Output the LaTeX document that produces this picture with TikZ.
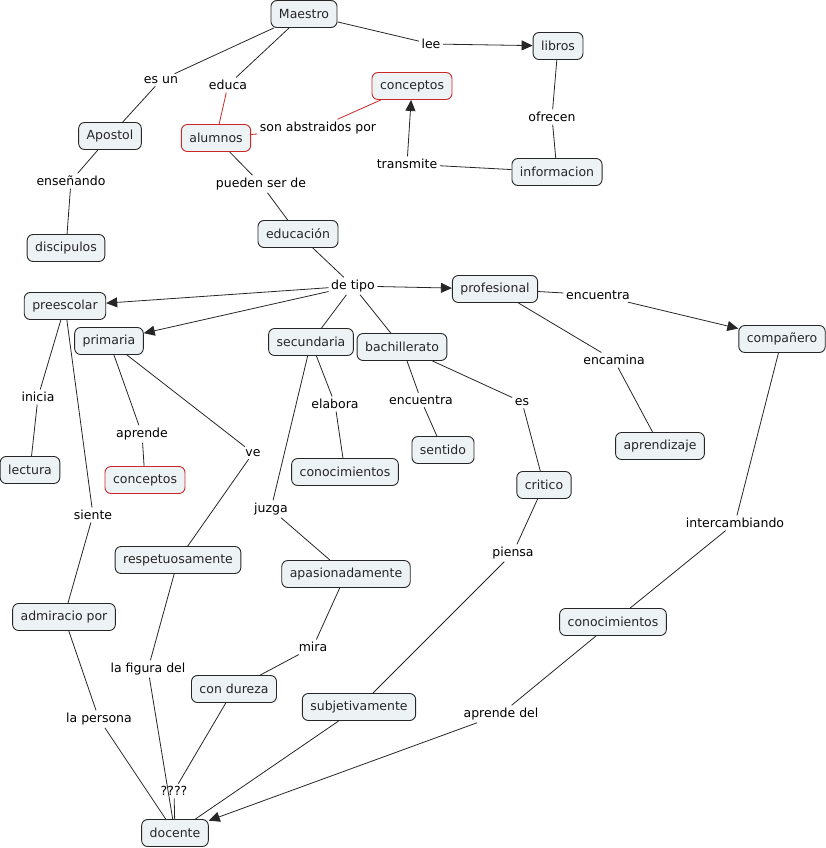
\documentclass[tikz,border=0pt]{standalone}
\usepackage{fontspec}
\setmainfont{DejaVu Sans}
\usetikzlibrary{arrows.meta}
\definecolor{conceptfill}{RGB}{237,242,245}
\definecolor{cmapred}{RGB}{205,38,38}
\begin{document}
\begin{tikzpicture}[x=1pt,y=-1pt,
    concept/.style={rectangle,draw=black!85,fill=conceptfill,rounded corners=6pt,
      line width=0.9pt,minimum height=27pt,inner xsep=8pt,inner ysep=0pt,
      font=\fontsize{12.5}{14}\selectfont,text=black!85},
    redconcept/.style={concept,draw=cmapred},
    linkp/.style={inner sep=2.5pt,font=\fontsize{12.5}{14}\selectfont},
    conn/.style={line width=0.8pt,draw=black!85},
    redconn/.style={line width=0.8pt,draw=cmapred},
    arr/.style={conn,-{Triangle[length=11pt,width=10pt]}}]
  \useasboundingbox (0,0) rectangle (826,848);
  % concepts
  \node[concept] (maestro) at (304,14) {Maestro};
  \node[concept] (libros) at (558,46) {libros};
  \node[redconcept] (conceptosA) at (412,86) {conceptos};
  \node[concept] (apostol) at (110,136) {Apostol};
  \node[redconcept] (alumnos) at (216,138) {alumnos};
  \node[concept] (informacion) at (557,172) {informacion};
  \node[concept] (discipulos) at (66,248) {discipulos};
  \node[concept] (educacion) at (298,234) {educación};
  \node[concept] (preescolar) at (65,306) {preescolar};
  \node[concept] (profesional) at (495,289) {profesional};
  \node[concept] (primaria) at (109,341) {primaria};
  \node[concept] (secundaria) at (311,342) {secundaria};
  \node[concept] (bachillerato) at (402,347) {bachillerato};
  \node[concept] (companero) at (782,339) {compañero};
  \node[concept] (lectura) at (30,470) {lectura};
  \node[redconcept] (conceptosB) at (145,480) {conceptos};
  \node[concept] (conocimientosA) at (345,472) {conocimientos};
  \node[concept] (sentido) at (443,450) {sentido};
  \node[concept] (aprendizaje) at (660,446) {aprendizaje};
  \node[concept] (critico) at (544,485) {critico};
  \node[concept] (respetuosamente) at (178,560) {respetuosamente};
  \node[concept] (apasionadamente) at (346,574) {apasionadamente};
  \node[concept] (admiracion) at (64,617) {admiracio por};
  \node[concept] (conocimientosB) at (613,622) {conocimientos};
  \node[concept] (condureza) at (234,689) {con dureza};
  \node[concept] (subjetivamente) at (359,707) {subjetivamente};
  \node[concept] (docente) at (175,833) {docente};
  % linking phrases
  \node[linkp] (esun) at (161,80) {es un};
  \node[linkp] (educa) at (228,85) {educa};
  \node[linkp] (lee) at (431,44) {lee};
  \node[linkp] (abstraidos) at (318,128) {son abstraidos por};
  \node[linkp] (ofrecen) at (552,117) {ofrecen};
  \node[linkp] (transmite) at (407,164) {transmite};
  \node[linkp] (ensenando) at (71,181) {enseñando};
  \node[linkp] (puedenser) at (261,184) {pueden ser de};
  \node[linkp] (detipo) at (353,286) {de tipo};
  \node[linkp] (encuentraA) at (598,295) {encuentra};
  \node[linkp] (encamina) at (614,360) {encamina};
  \node[linkp] (inicia) at (38,397) {inicia};
  \node[linkp] (aprende) at (142,434) {aprende};
  \node[linkp] (ve) at (253,453) {ve};
  \node[linkp] (elabora) at (335,404) {elabora};
  \node[linkp] (encuentraB) at (421,400) {encuentra};
  \node[linkp] (es) at (522,402) {es};
  \node[linkp] (siente) at (93,515) {siente};
  \node[linkp] (juzga) at (271,509) {juzga};
  \node[linkp] (piensa) at (513,553) {piensa};
  \node[linkp] (intercambiando) at (735,523) {intercambiando};
  \node[linkp] (mira) at (313,647) {mira};
  \node[linkp] (figura) at (148,669) {la figura del};
  \node[linkp] (persona) at (99,719) {la persona};
  \node[linkp] (aprendedel) at (501,714) {aprende del};
  \node[linkp] (interrog) at (174,791) {????};
  % connectors
  \draw[conn] (maestro) -- (esun) -- (apostol);
  \draw[conn] (maestro) -- (educa);
  \draw[redconn] (educa) -- (alumnos);
  \draw[arr] (maestro) -- (lee) -- (libros);
  \draw[redconn] (alumnos) -- (abstraidos) -- (conceptosA);
  \draw[conn] (libros) -- (ofrecen) -- (informacion);
  \draw[arr] (informacion) -- (transmite) -- (conceptosA);
  \draw[conn] (apostol) -- (ensenando) -- (discipulos);
  \draw[conn] (alumnos) -- (puedenser) -- (educacion);
  \draw[conn] (educacion) -- (detipo);
  \draw[arr] (detipo) -- (preescolar);
  \draw[arr] (detipo) -- (primaria);
  \draw[arr] (detipo) -- (profesional);
  \draw[conn] (detipo) -- (secundaria);
  \draw[conn] (detipo) -- (bachillerato);
  \draw[arr] (profesional) -- (encuentraA) -- (companero);
  \draw[conn] (profesional) -- (encamina) -- (aprendizaje);
  \draw[conn] (preescolar) -- (inicia) -- (lectura);
  \draw[conn] (preescolar) -- (siente) -- (admiracion);
  \draw[conn] (primaria) -- (aprende) -- (conceptosB);
  \draw[conn] (primaria) -- (ve) -- (respetuosamente);
  \draw[conn] (secundaria) -- (elabora) -- (conocimientosA);
  \draw[conn] (secundaria) -- (juzga) -- (apasionadamente);
  \draw[conn] (bachillerato) -- (encuentraB) -- (sentido);
  \draw[conn] (bachillerato) -- (es) -- (critico);
  \draw[conn] (critico) -- (piensa) -- (subjetivamente);
  \draw[conn] (companero) -- (intercambiando) -- (conocimientosB);
  \draw[arr] (conocimientosB) -- (aprendedel) -- (docente);
  \draw[conn] (apasionadamente) -- (mira) -- (condureza);
  \draw[conn] (respetuosamente) -- (figura) -- (docente);
  \draw[conn] (admiracion) -- (persona) -- (docente);
  \draw[conn] (condureza) -- (interrog) -- (docente);
  \draw[conn] (subjetivamente) -- (docente);
\end{tikzpicture}
\end{document}
